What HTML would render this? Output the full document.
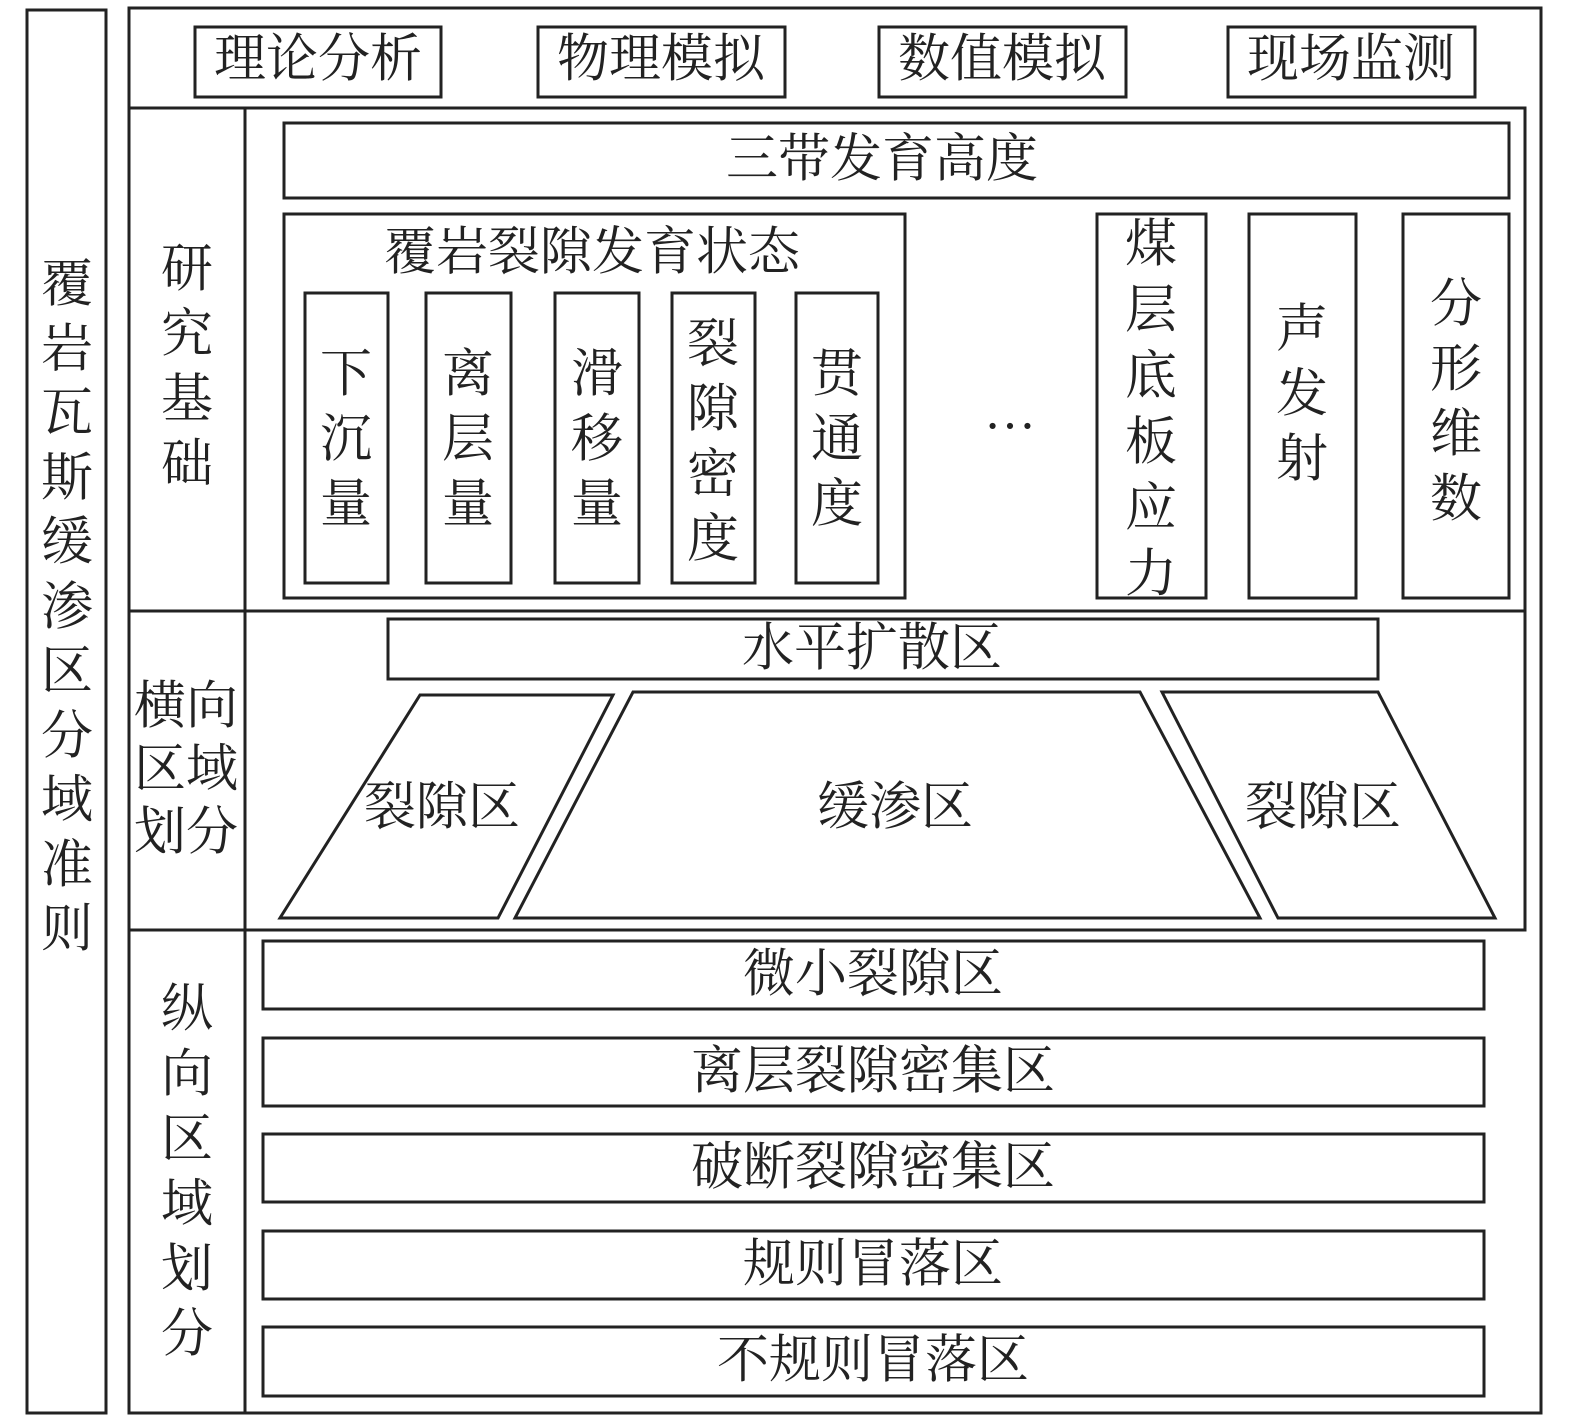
<!DOCTYPE html>
<html><head><meta charset="utf-8"><style>
html,body{margin:0;padding:0;background:#fff}
svg{display:block}
text{font-family:"Liberation Serif","Noto Serif CJK SC",serif;font-size:52px;fill:#222;text-anchor:middle;dominant-baseline:central}
</style></head><body>
<svg width="1575" height="1427" viewBox="0 0 1575 1427" xmlns="http://www.w3.org/2000/svg">
<g fill="none" stroke="#222" stroke-width="3">
<rect x="27" y="10" width="79" height="1403"/>
<rect x="129" y="8" width="1412" height="1405"/>
<rect x="195" y="27" width="246" height="70"/>
<rect x="538" y="27" width="247" height="70"/>
<rect x="879" y="27" width="247" height="70"/>
<rect x="1228" y="27" width="247" height="70"/>
<polyline points="129,108 1525,108 1525,930 129,930"/>
<line x1="129" y1="611" x2="1525" y2="611"/>
<line x1="245" y1="108" x2="245" y2="1413"/>
<rect x="284" y="123" width="1225" height="75"/>
<rect x="284" y="214" width="621" height="384"/>
<rect x="305" y="293" width="83" height="290"/>
<rect x="426" y="293" width="85" height="290"/>
<rect x="555" y="293" width="84" height="290"/>
<rect x="672" y="293" width="83" height="290"/>
<rect x="796" y="293" width="82" height="290"/>
<rect x="1097" y="214" width="109" height="384"/>
<rect x="1249" y="214" width="107" height="384"/>
<rect x="1403" y="214" width="106" height="384"/>
<rect x="388" y="619" width="990" height="60"/>
<polygon points="420,695 613,695 498,918 280,918"/>
<polygon points="633,692 1140,692 1260,918 515,918"/>
<polygon points="1162,692 1378,692 1495,918 1278,918"/>
<rect x="263" y="941" width="1221" height="68"/>
<rect x="263" y="1038" width="1221" height="68"/>
<rect x="263" y="1134" width="1221" height="68"/>
<rect x="263" y="1231" width="1221" height="68"/>
<rect x="263" y="1327" width="1221" height="69"/>
</g>
<g>
<text x="67" y="285">覆</text><text x="67" y="350">岩</text><text x="67" y="414">瓦</text><text x="67" y="479">斯</text><text x="67" y="543">缓</text><text x="67" y="608">渗</text><text x="67" y="672">区</text><text x="67" y="737">分</text><text x="67" y="801">域</text><text x="67" y="866">准</text><text x="67" y="930">则</text>
<text x="318" y="60">理论分析</text><text x="661" y="60">物理模拟</text><text x="1002" y="60">数值模拟</text><text x="1351" y="60">现场监测</text>
<text x="187" y="270">研</text><text x="187" y="335">究</text><text x="187" y="400">基</text><text x="187" y="465">础</text>
<text x="882" y="160">三带发育高度</text>
<text x="592" y="253">覆岩裂隙发育状态</text>
<text x="346" y="375">下</text><text x="346" y="440">沉</text><text x="346" y="505">量</text>
<text x="468" y="375">离</text><text x="468" y="440">层</text><text x="468" y="505">量</text>
<text x="597" y="375">滑</text><text x="597" y="440">移</text><text x="597" y="505">量</text>
<text x="713" y="345">裂</text><text x="713" y="410">隙</text><text x="713" y="475">密</text><text x="713" y="540">度</text>
<text x="837" y="375">贯</text><text x="837" y="440">通</text><text x="837" y="505">度</text>
<text x="1010" y="412">…</text>
<text x="1151" y="245">煤</text><text x="1151" y="311">层</text><text x="1151" y="377">底</text><text x="1151" y="443">板</text><text x="1151" y="509">应</text><text x="1151" y="575">力</text>
<text x="1302" y="330">声</text><text x="1302" y="395">发</text><text x="1302" y="460">射</text>
<text x="1456" y="305">分</text><text x="1456" y="370">形</text><text x="1456" y="435">维</text><text x="1456" y="500">数</text>
<text x="160" y="707">横</text><text x="212" y="707">向</text><text x="160" y="770">区</text><text x="212" y="770">域</text><text x="160" y="833">划</text><text x="212" y="833">分</text>
<text x="872" y="649">水平扩散区</text>
<text x="442" y="808">裂隙区</text><text x="895" y="808">缓渗区</text><text x="1323" y="808">裂隙区</text>
<text x="187" y="1010">纵</text><text x="187" y="1075">向</text><text x="187" y="1140">区</text><text x="187" y="1205">域</text><text x="187" y="1270">划</text><text x="187" y="1335">分</text>
<text x="873" y="975">微小裂隙区</text>
<text x="873" y="1072">离层裂隙密集区</text>
<text x="873" y="1168">破断裂隙密集区</text>
<text x="873" y="1265">规则冒落区</text>
<text x="873" y="1361">不规则冒落区</text>
</g>
</svg>
</body></html>
